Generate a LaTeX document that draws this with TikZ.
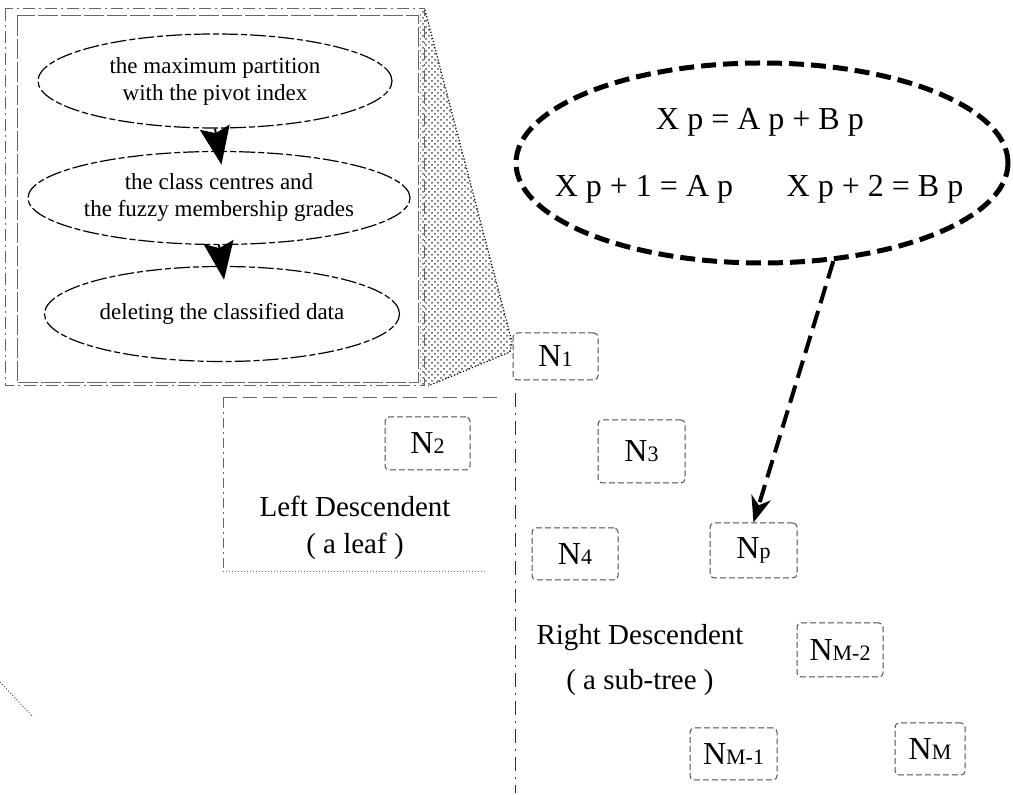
\documentclass[tikz,border=0pt]{standalone}
\usepackage{fontspec}
\setmainfont{Liberation Serif}
\usetikzlibrary{shapes.geometric,arrows.meta,patterns}
\newcommand{\nsub}[1]{{\fontsize{11}{11}\selectfont #1}}
\begin{document}
\begin{tikzpicture}[x=0.5pt,y=-0.5pt,
  procell/.style={ellipse, draw, line width=0.6pt, dash pattern=on 8pt off 1.5pt on 3pt off 1.5pt, inner sep=0pt, font=\fontsize{11.5}{13.5}\selectfont, align=center},
  nbox/.style={draw=black!70, line width=0.5pt, dash pattern=on 3pt off 1.5pt, rounded corners=2pt, minimum width=43pt, minimum height=26pt, inner sep=0pt, font=\fontsize{16}{16}\selectfont},
  lbl/.style={font=\fontsize{14.5}{18.5}\selectfont, align=center},
  eqtxt/.style={font=\fontsize{16}{16}\selectfont, anchor=base},
  bigarrow/.style={-{Stealth[length=19pt,width=15pt,inset=3pt]}, line width=1pt, shorten >=-7pt},
  ptr/.style={-{Stealth[length=13pt,width=10pt,inset=4pt]}, line width=2pt, dash pattern=on 9pt off 4pt},
  frame/.style={draw=black!60, line width=0.5pt}
]
\useasboundingbox (0,0) rectangle (1013,795);

% zoom shading
\fill[pattern=crosshatch dots, pattern color=black!70] (420,10) -- (425,10) -- (512,342) -- (510,352) -- (428,386) -- (420,386) -- cycle;
\draw[line width=0.6pt, densely dotted] (425,10) -- (512,342) -- (510,352) -- (428,386);

% frame
\draw[frame, dash pattern=on 6pt off 2pt on 1pt off 2pt] (5,9) rectangle (424,386);
\draw[frame, dash pattern=on 10pt off 1.5pt] (17,16) rectangle (418,383);

% process ellipses
\node[procell, minimum width=177pt, minimum height=47pt] (e1) at (215,81) {the maximum partition\\with the pivot index};
\node[procell, minimum width=176pt, minimum height=46.5pt] (e2) at (219,198) {the class centres and\\the fuzzy membership grades};
\node[procell, minimum width=177.5pt, minimum height=47.5pt] (e3) at (222,314) {deleting the classified data};
\draw[bigarrow] (e1.south) -- (e2.north);
\draw[bigarrow] (e2.south) -- (e3.north);

% equation ellipse
\node[ellipse, draw, line width=2.5pt, dash pattern=on 7.5pt off 3.5pt, minimum width=246pt, minimum height=100pt] (eq) at (762,163) {};
\node[eqtxt] (q1) at (760,130) {X p = A p + B p};
\node[eqtxt] (q2) at (644,197) {X p + 1 = A p};
\node[eqtxt] (q3) at (875,197) {X p + 2 = B p};

% left descendent region
\draw[frame, dash pattern=on 7pt off 3pt] (497,398) -- (223,398);
\draw[frame, dash pattern=on 5pt off 2pt on 1pt off 2pt] (223,398) -- (223,572);
\draw[frame, densely dotted] (223,572) -- (487,572);
\coordinate (vtop) at (515,393);
\coordinate (vbot) at (515,793);
\draw[frame, draw=black!80, dash pattern=on 7pt off 3pt on 1pt off 3pt] (vtop) -- (vbot);

% tree nodes
\node[nbox, minimum width=42.5pt, minimum height=23.5pt] (n1) at (555.5,356.5) {N\nsub{1}};
\node[nbox, minimum width=42.5pt, minimum height=26.5pt] (n2) at (427.5,443.5) {N\nsub{2}};
\node[nbox, minimum width=43.5pt, minimum height=31.5pt] (n3) at (641.5,451.5) {N\nsub{3}};
\node[nbox, minimum width=43pt, minimum height=26pt] (n4) at (575,554) {N\nsub{4}};
\node[nbox, minimum width=43.5pt, minimum height=27.5pt] (np) at (753.5,550.5) {N\nsub{p}};
\node[nbox, minimum width=43pt, minimum height=27pt] (nm2) at (840,650) {N\nsub{M-2}};
\node[nbox, minimum width=43.5pt, minimum height=26pt] (nm1) at (733.5,754) {N\nsub{M-1}};
\node[nbox, minimum width=35pt, minimum height=26pt] (nm) at (930,749) {N\nsub{M}};

% labels
\node[lbl] (ld) at (355,528) {Left Descendent\\( a leaf )};
\node[lbl, font=\fontsize{14.5}{22.5}\selectfont] (rd) at (640,660) {Right Descendent\\( a sub-tree )};

% pointer
\draw[ptr] (eq.-54) -- (np.north);

% stray stroke
\draw[black!70, line width=0.5pt, densely dotted] (0,682) -- (33,717);
\end{tikzpicture}
\end{document}
